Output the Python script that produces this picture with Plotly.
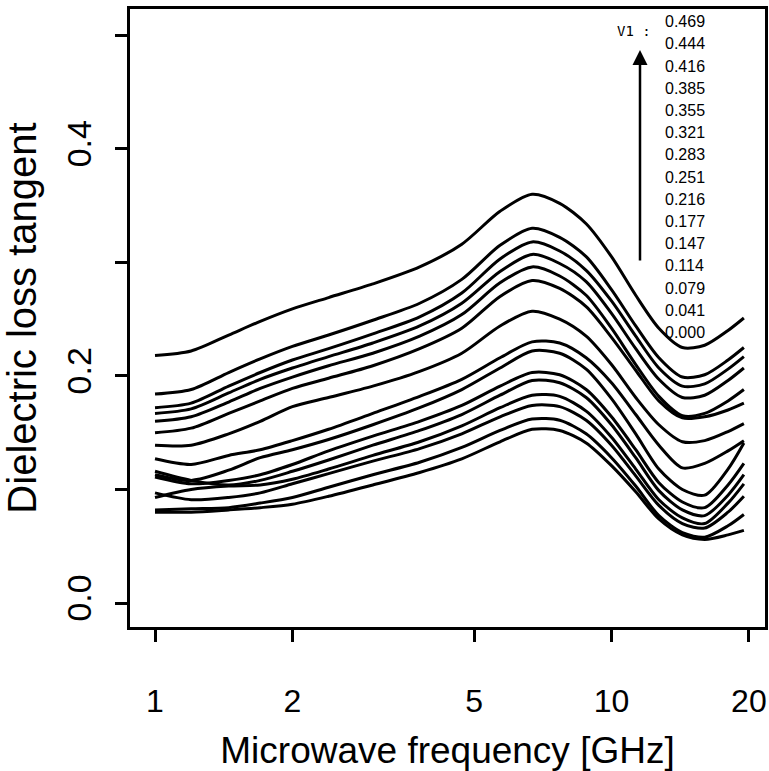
import plotly.graph_objects as go

freqs = [1.0, 1.2, 1.45, 1.7, 2.0, 2.4, 3.0, 3.8, 4.7, 5.7, 6.7, 7.7, 8.8, 10.0, 11.3, 12.7, 14.3, 16.0, 18.0, 19.5]

v1_labels = ["0.469", "0.444", "0.416", "0.385", "0.355", "0.321", "0.283", "0.251",
             "0.216", "0.177", "0.147", "0.114", "0.079", "0.041", "0.000"]

c0 = [.218, .222, .236, .248, .259, .269, .281, .296, .316, .345, .360, .352, .334, .305, .271, .242, .225, .227, .240, .251]
c1 = [.184, .188, .203, .215, .226, .236, .249, .264, .285, .315, .330, .322, .305, .276, .244, .216, .199, .201, .214, .225]
c2 = [.172, .176, .191, .203, .214, .224, .237, .252, .273, .303, .318, .310, .293, .266, .235, .207, .191, .193, .206, .217]
c3 = [.167, .171, .185, .197, .207, .217, .229, .244, .264, .292, .307, .299, .283, .255, .224, .197, .181, .183, .196, .207]
c4 = [.160, .164, .177, .189, .199, .209, .220, .235, .254, .282, .296, .288, .271, .242, .210, .182, .165, .167, .178, .188]
c5 = [.150, .154, .167, .178, .189, .198, .209, .224, .242, .270, .284, .277, .261, .234, .205, .178, .163, .164, .170, .176]
c6 = [.139, .139, .149, .160, .173, .181, .191, .204, .220, .244, .257, .250, .235, .210, .181, .157, .142, .143, .151, .158]
c7 = [.127, .122, .130, .135, .143, .153, .167, .182, .197, .216, .230, .229, .216, .194, .166, .139, .119, .123, .134, .143]
c8 = [.113, .108, .117, .128, .135, .144, .157, .172, .188, .207, .222, .220, .206, .180, .149, .118, .100, .095, .118, .141]
c9 = [.111, .105, .108, .113, .122, .134, .147, .160, .174, .191, .203, .201, .188, .164, .135, .106, .089, .084, .104, .123]
c10 = [.116, .108, .104, .108, .116, .126, .139, .152, .166, .183, .196, .194, .181, .157, .128, .099, .082, .077, .095, .113]
c11 = [.093, .100, .103, .104, .109, .118, .130, .142, .156, .172, .183, .182, .169, .146, .118, .091, .075, .070, .088, .105]
c12 = [.097, .091, .093, .097, .105, .114, .125, .136, .149, .164, .174, .173, .161, .139, .112, .086, .070, .066, .080, .094]
c13 = [.082, .083, .084, .088, .093, .102, .113, .124, .137, .152, .162, .161, .149, .128, .103, .077, .062, .058, .068, .078]
c14 = [.080, .080, .082, .084, .087, .094, .104, .115, .127, .142, .153, .152, .141, .121, .098, .074, .060, .056, .060, .064]

curves = [c0, c1, c2, c3, c4, c5, c6, c7, c8, c9, c10, c11, c12, c13, c14]

x_ticks = [1, 2, 5, 10, 20]
y_ticks = [0.0, 0.1, 0.2, 0.3, 0.4, 0.5]
y_ticktext = ["0.0", "", "0.2", "", "0.4", ""]

fig = go.Figure()
for lab, vals in zip(v1_labels, curves):
    fig.add_trace(go.Scatter(x=freqs, y=vals, mode="lines", name=lab,
                             line=dict(color="black", width=3, shape="spline", smoothing=0.8),
                             showlegend=False))

W, H = 769, 771
box_l, box_r, box_t, box_b = 130, 765, 9, 627          # frame position in window pixels
ml, mr, mt, mb = box_l, W - box_r, box_t, H - box_b


def px_to_paper(xw, yw):
    return (xw - box_l) / (box_r - box_l), (box_b - yw) / (box_b - box_t)


fig.update_layout(
    width=W, height=H,
    margin=dict(l=ml, r=mr, t=mt, b=mb, autoexpand=False),
    paper_bgcolor="white", plot_bgcolor="white",
    xaxis=dict(type="log", range=[-0.0548, 1.3363], automargin=True,
               tickvals=x_ticks, ticktext=[str(v) for v in x_ticks],
               ticks="outside", ticklen=12, tickwidth=3, tickcolor="black",
               showline=True, linewidth=3, linecolor="black", mirror=True,
               showgrid=False, zeroline=False,
               tickfont=dict(family="Liberation Sans", size=32, color="black"),
               ticklabelstandoff=32,
               title=dict(text="Microwave frequency [GHz]", standoff=22,
                          font=dict(family="Liberation Sans", size=37, color="black"))),
    yaxis=dict(range=[-0.0211, 0.5231], automargin=True,
               tickvals=y_ticks, ticktext=y_ticktext, tickangle=-90,
               ticks="outside", ticklen=12, tickwidth=3, tickcolor="black",
               showline=True, linewidth=3, linecolor="black", mirror=True,
               showgrid=False, zeroline=False,
               tickfont=dict(family="Liberation Sans", size=34, color="black"),
               ticklabelstandoff=10,
               title=dict(text="Dielectric loss tangent", standoff=16,
                          font=dict(family="Liberation Sans", size=40, color="black"))),
)

# V1 label column
vx, vy = px_to_paper(615, 31)
fig.add_annotation(x=vx, y=vy, xref="paper", yref="paper",
                   text="V1 :", showarrow=False, xanchor="left", yanchor="middle",
                   font=dict(family="DejaVu Sans Mono", size=14, color="black"))
for i, lab in enumerate(v1_labels):
    lx, ly = px_to_paper(663, 21.7 + 22.2 * i)
    fig.add_annotation(x=lx, y=ly, xref="paper", yref="paper",
                       text=lab, showarrow=False, xanchor="left", yanchor="middle",
                       font=dict(family="Liberation Sans", size=16, color="black"))

# arrow
axp, ayp = px_to_paper(640, 50)
fig.add_annotation(x=axp, y=ayp, xref="paper", yref="paper",
                   text="", showarrow=True, ax=0, ay=212, axref="pixel", ayref="pixel",
                   arrowhead=2, arrowsize=1.2, arrowwidth=2.5, arrowcolor="black")

fig.write_html("out.html", config={"displayModeBar": False},
               post_script="document.body.style.margin='0';document.body.style.overflow='hidden';")
